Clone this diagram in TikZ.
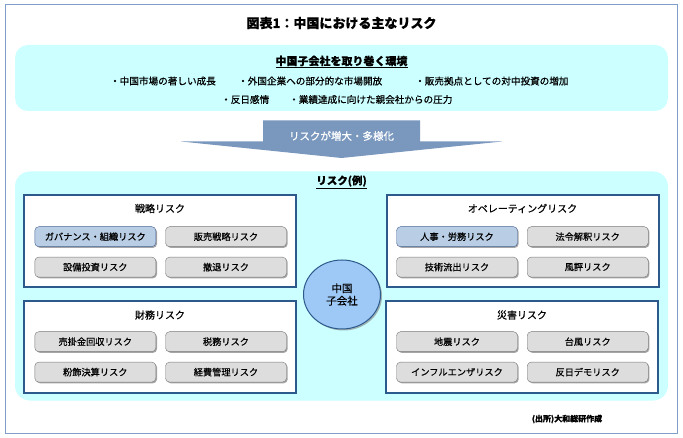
\documentclass[tikz,border=0pt]{standalone}
\usepackage{fontspec}
\setmainfont{Noto Sans CJK JP}[RawFeature={embolden=0.6}]
\usepackage{xcolor}
\usepackage{tikz}
\usetikzlibrary{positioning, shadows, shapes.geometric}

\definecolor{framec}{RGB}{128,158,204}
\definecolor{cyanbg}{RGB}{204,255,255}
\definecolor{arrowc}{RGB}{122,152,190}
\definecolor{panelc}{RGB}{44,90,140}
\definecolor{btngray}{RGB}{221,221,221}
\definecolor{btnline}{RGB}{120,120,120}
\definecolor{btnhl}{RGB}{185,205,229}
\definecolor{btnhlline}{RGB}{70,100,150}
\definecolor{circc}{RGB}{158,200,245}

\tikzset{
  panel/.style={draw=panelc, line width=2pt, fill=white, minimum width=272pt, minimum height=92pt, inner sep=0pt},
  ptitle/.style={font=\fontsize{10}{11}\selectfont},
  btn/.style={draw=btnline, fill=btngray, rounded corners=4pt, minimum width=121pt, minimum height=20pt, inner sep=0pt,
    font=\fontsize{9.2}{10}\selectfont, drop shadow={shadow xshift=1.2pt, shadow yshift=-1.2pt, opacity=.7, fill=gray}},
  hl/.style={draw=btnhlline, fill=btnhl},
  bullet/.style={anchor=west, inner sep=0pt, font=\fontsize{9.6}{10}\selectfont}
}

\begin{document}
\begin{tikzpicture}[x=1pt, y=-1pt]
\useasboundingbox (0,0) rectangle (683,438);
\fill[white] (0,0) rectangle (683,438);
\draw[framec, line width=1pt] (5,5) rectangle (677,433);

% title
\node[font=\bfseries\fontsize{13}{15}\selectfont] (title) at (341.5,23) {図表1：中国における主なリスク};

% environment box
\fill[cyanbg, rounded corners=13pt] (15,45) rectangle (668,111);
\node[font=\bfseries\fontsize{11}{13}\selectfont] (env) at (341.5,62) {\underline{中国子会社を取り巻く環境}};
\node[bullet] (e1) at (110,81) {・中国市場の著しい成長};
\node[bullet] (e2) at (238,81) {・外国企業への部分的な市場開放};
\node[bullet] (e3) at (415,81) {・販売拠点としての対中投資の増加};
\node[bullet] (e4) at (221,99.5) {・反日感情};
\node[bullet] (e5) at (289,99.5) {・業績達成に向けた親会社からの圧力};

% big arrow
\fill[arrowc] (263,120.5) -- (420,120.5) -- (420,141.5) -- (502,141.5) -- (341.5,158) -- (181,141.5) -- (263,141.5) -- cycle;
\node[text=white, font=\fontsize{10.5}{12}\selectfont] (grow) at (341.5,136) {リスクが増大・多様化};

% risk box
\fill[cyanbg, rounded corners=15pt] (15,171.5) rectangle (668,400.5);
\node[font=\bfseries\fontsize{10.5}{12}\selectfont] (risk) at (341.5,182) {\underline{リスク(例)}};

% strategy
\node[panel] (strat) at (160,241) {};
\node[ptitle] (stratT) at (160,208.5) {戦略リスク};
\node[btn, hl] (gov) at (95.3,236.7) {ガバナンス・組織リスク};
\node[btn, right=9.3pt of gov] (sales) {販売戦略リスク};
\node[btn, below=10pt of gov] (capex) {設備投資リスク};
\node[btn, below=10pt of sales] (exit) {撤退リスク};

% operating
\node[panel] (oper) at (522.5,241) {};
\node[ptitle] (operT) at (522.5,208.5) {オペレーティングリスク};
\node[btn, hl] (hr) at (457,236.7) {人事・労務リスク};
\node[btn, right=9.3pt of hr] (law) {法令解釈リスク};
\node[btn, below=10pt of hr] (tech) {技術流出リスク};
\node[btn, below=10pt of law] (rumor) {風評リスク};

% finance
\node[panel] (fin) at (160,347) {};
\node[ptitle] (finT) at (160,315) {財務リスク};
\node[btn] (recv) at (95.3,341.7) {売掛金回収リスク};
\node[btn, right=9.3pt of recv] (tax) {税務リスク};
\node[btn, below=10pt of recv] (fraud) {粉飾決算リスク};
\node[btn, below=10pt of tax] (cost) {経費管理リスク};

% disaster
\node[panel] (dis) at (522,347) {};
\node[ptitle] (disT) at (522,315) {災害リスク};
\node[btn] (quake) at (457,341.7) {地震リスク};
\node[btn, right=9.3pt of quake] (typh) {台風リスク};
\node[btn, below=10pt of quake] (flu) {インフルエンザリスク};
\node[btn, below=10pt of typh] (demo) {反日デモリスク};

% center
\node[ellipse, draw=panelc, line width=1pt, fill=circc, minimum width=77pt, minimum height=69pt, inner sep=0pt,
  align=center, font=\fontsize{10.5}{12.5}\selectfont,
  drop shadow={shadow xshift=1.5pt, shadow yshift=-1.5pt, opacity=.6, fill=gray}] (sub) at (342,294.5) {中国\\子会社};

% source
\node[font=\bfseries\fontsize{8}{10}\selectfont] (src) at (567,419) {(出所)大和総研作成};
\end{tikzpicture}
\end{document}
